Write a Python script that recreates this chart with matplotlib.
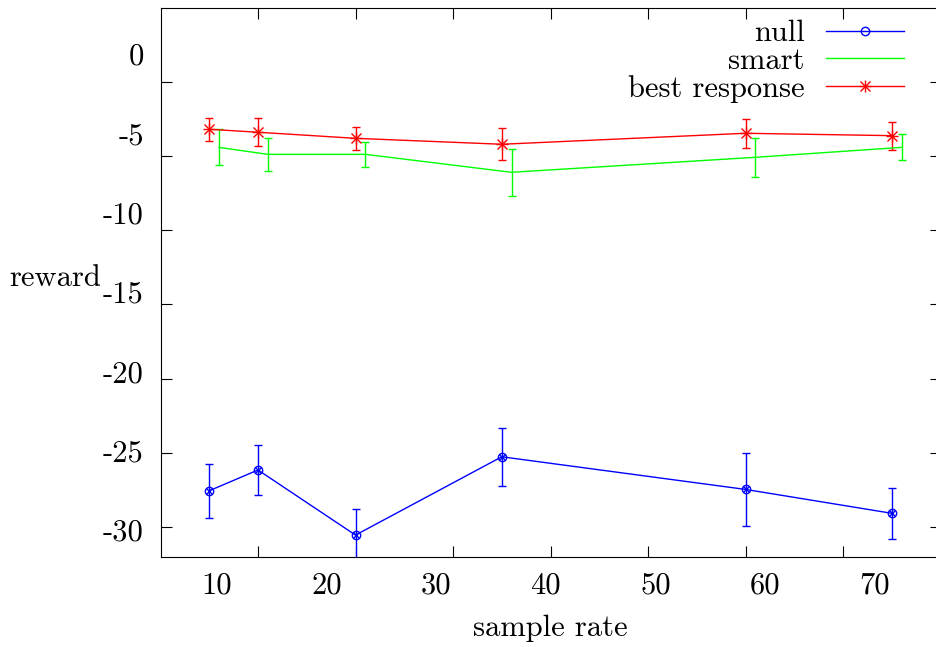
import matplotlib
matplotlib.use("Agg")
import matplotlib.pyplot as plt
from matplotlib.lines import Line2D

# sample rate
x = [5, 10, 20, 35, 60, 75]
x_smart = [6, 11, 21, 36, 61, 76]

null = [-27.56, -26.16, -30.55, -25.27, -27.47, -29.08]
null_err = [1.82, 1.70, 1.73, 1.97, 2.48, 1.72]
smart = [-4.41, -4.88, -4.88, -6.09, -5.08, -4.41]
smart_err = [1.21, 1.09, 0.86, 1.58, 1.33, 0.88]
best = [-3.19, -3.39, -3.80, -4.20, -3.46, -3.62]
best_err = [0.77, 0.96, 0.79, 1.09, 0.97, 0.94]

xticks = [10, 20, 30, 40, 50, 60, 70]
yticks = [0, -5, -10, -15, -20, -25, -30]

plt.rcParams['font.family'] = ['cmr10', 'DejaVu Serif']
plt.rcParams['font.size'] = 22

W, H = 936, 647
fig = plt.figure(figsize=(W / 100, H / 100), dpi=100)
ax = fig.add_axes([160.5 / W, (H - 556.6) / H, 780 / W, 548.8 / H])

lw = 1.0
ax.errorbar(x, null, yerr=null_err, color='#0000ff', lw=lw, elinewidth=lw,
            capsize=3, capthick=lw, marker='o', mfc='none', ms=6, mew=lw)
ax.plot(x, null, ls='none', marker='x', color='#0000ff', ms=5, mew=lw)
ax.errorbar(x_smart, smart, yerr=smart_err, color='#00ff00', lw=lw,
            elinewidth=lw, capsize=3, capthick=lw)
ax.errorbar(x, best, yerr=best_err, color='#ff0000', lw=lw, elinewidth=lw,
            capsize=3, capthick=lw, marker='+', ms=9, mew=lw)
ax.plot(x, best, ls='none', marker='x', color='#ff0000', ms=7, mew=lw)

ax.set_xlim(0, 80)
ax.set_ylim(-32, 5)

# tick marks where the values are, labels drawn slightly stretched like the original
ax.set_xticks(xticks)
ax.set_yticks(yticks)
ax.set_xticks([1.1253 * v - 5.49 for v in xticks],
              labels=[str(v) for v in xticks], minor=True)
ax.set_yticks([1.0697 * v + 1.888 for v in yticks],
              labels=[str(v) for v in yticks], minor=True)
ax.tick_params(which='major', direction='in', length=8, width=0.8,
               top=True, right=True, labelbottom=False, labelleft=False)
ax.tick_params(which='minor', length=0)
ax.tick_params(axis='x', which='minor', pad=11)
ax.tick_params(axis='y', which='minor', pad=12)
for s in ax.spines.values():
    s.set_linewidth(0.8)

ax.set_xlabel('sample rate')
ax.xaxis.set_label_coords(0.5, -0.13)
ax.xaxis.label.set_va('center')
ax.set_ylabel('reward', rotation=0, ha='center', va='center')
ax.yaxis.set_label_coords(-0.135, 0.508)

handles = [
    Line2D([], [], color='#0000ff', lw=lw, marker='o', mfc='none', ms=6, mew=lw),
    Line2D([], [], color='#00ff00', lw=lw),
    (Line2D([], [], color='#ff0000', lw=lw, marker='+', ms=9, mew=lw),
     Line2D([], [], ls='none', color='#ff0000', marker='x', ms=7, mew=lw)),
]
ax.legend(handles, ['null', 'smart', 'best response'], loc='upper right',
          bbox_to_anchor=(904 / W, (H - 20) / H), bbox_transform=fig.transFigure,
          frameon=False, markerfirst=False, borderpad=0, borderaxespad=0,
          handlelength=2.55, handletextpad=0.7, labelspacing=0.0)

fig.savefig('out.png', dpi=100)
